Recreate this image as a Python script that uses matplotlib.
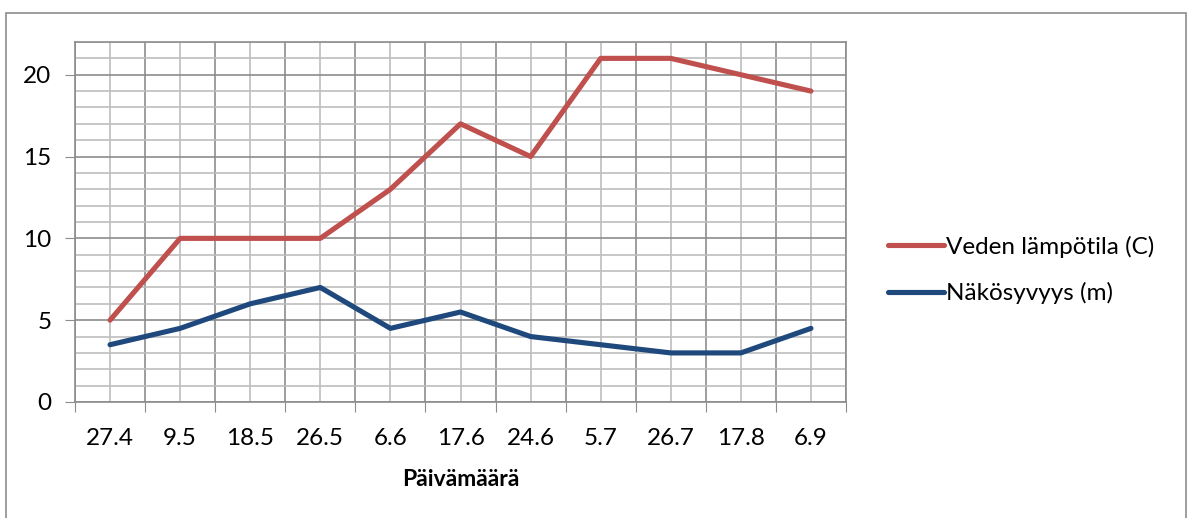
import matplotlib
matplotlib.use("Agg")
import matplotlib.pyplot as plt
import matplotlib.patches as patches
import numpy as np

# -------------------------------
# Data
# -------------------------------
dates = ["27.4", "9.5", "18.5", "26.5", "6.6", "17.6", "24.6", "5.7", "26.7", "17.8", "6.9"]
temperature = [5, 10, 10, 10, 13, 17, 15, 21, 21, 20, 19]
visibility = [3.5, 4.5, 6, 7, 4.5, 5.5, 4, 3.5, 3, 3, 4.5]

plt.rcParams["font.family"] = ["Lato", "DejaVu Sans"]

W, H = 1187, 518
fig = plt.figure(figsize=(W / 100, H / 100), dpi=100)

# outer chart border
fig.patches.append(patches.Rectangle((6 / W, -0.05), (1186 - 6) / W, (H - 13) / H + 0.05,
                                     transform=fig.transFigure, fill=False,
                                     edgecolor="#8c8c8c", linewidth=1.2))

ax = fig.add_axes([75 / W, (H - 402) / H, 771 / W, 360 / H])

x = np.arange(len(dates))
ax.plot(x, temperature, color="#C0504D", linewidth=3.7, solid_capstyle="round",
        label="Veden lämpötila (C)", zorder=5)
ax.plot(x, visibility, color="#1F497D", linewidth=3.7, solid_capstyle="round",
        label="Näkösyvyys (m)", zorder=5)

ax.set_xlim(-0.5, len(dates) - 0.5)
ax.set_ylim(0, 22)

# category boundaries as major ticks, category centers as labelled minor ticks
ax.set_xticks(np.arange(-0.5, len(dates)))
ax.set_xticklabels([])
ax.set_xticks(x, minor=True)
ax.set_xticklabels(dates, minor=True, fontsize=17.5)
ax.tick_params(axis="x", which="major", length=7, color="#8c8c8c", direction="out")
ax.tick_params(axis="x", which="minor", length=0, pad=19)

ax.set_yticks(np.arange(0, 21, 5))
ax.set_yticks(np.arange(0, 23, 1), minor=True)
ax.tick_params(axis="y", which="major", length=7, color="#8c8c8c", labelsize=17.5, pad=10)
ax.tick_params(axis="y", which="minor", length=0)

ax.grid(which="major", color="#8c8c8c", linewidth=1.2)
ax.grid(which="minor", color="#bebebe", linewidth=1.2)
ax.set_axisbelow(True)

for side in ["left", "bottom", "top", "right"]:
    ax.spines[side].set_color("#8c8c8c")
    ax.spines[side].set_linewidth(1.2)

ax.set_xlabel("Päivämäärä", fontsize=16.5, fontweight="bold", labelpad=14)

ax.legend(loc="center left", bbox_to_anchor=(878 / W, (H - 270) / H),
          bbox_transform=fig.transFigure, frameon=False, fontsize=17.5,
          handlelength=2.3, handletextpad=0.1, labelspacing=1.0, borderaxespad=0)

fig.savefig("out.png", dpi=100)
